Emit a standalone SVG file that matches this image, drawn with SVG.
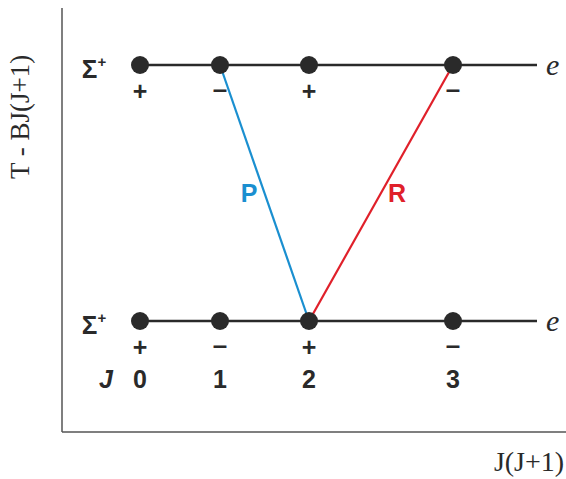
<svg xmlns="http://www.w3.org/2000/svg" width="566" height="479" viewBox="0 0 566 479">
<style>
.axis{stroke:#555;stroke-width:1.5;fill:none}
.lvl{stroke:#2a2a2a;stroke-width:2.5}
.dot{fill:#2a2a2a}
.lab{font-family:"Liberation Sans",Arial,sans-serif;font-weight:bold;fill:#2a2a2a;text-anchor:middle}
.ser{font-family:"Liberation Serif","Times New Roman",serif;fill:#2a2a2a}
</style>
<g id="axes">
<line class="axis" x1="62" y1="8" x2="62" y2="432"/>
<line class="axis" x1="62" y1="432" x2="566" y2="432"/>
<text class="ser" font-size="27" transform="translate(29,117) rotate(-90)" text-anchor="middle">T - BJ(J+1)</text>
<text class="ser" font-size="28" x="529" y="471" text-anchor="middle">J(J+1)</text>
</g>
<g id="connectors">
<line x1="220" y1="65" x2="309" y2="321" stroke="#1a8fd0" stroke-width="2.2"/>
<line x1="453" y1="65" x2="309" y2="321" stroke="#e0202a" stroke-width="2.2"/>
<text class="lab" x="249" y="202" font-size="25" style="fill:#1a8fd0">P</text>
<text class="lab" x="397" y="202" font-size="25" style="fill:#e0202a">R</text>
</g>
<g id="upper">
<line class="lvl" x1="140" y1="65" x2="537" y2="65"/>
<text class="lab" x="94" y="78" font-size="26" text-anchor="start">Σ<tspan font-size="15" dy="-11">+</tspan></text>
<text class="ser" x="546" y="75" font-size="30" font-style="italic">e</text>
</g>
<g id="lower">
<line class="lvl" x1="140" y1="321" x2="537" y2="321"/>
<text class="lab" x="94" y="334" font-size="26" text-anchor="start">Σ<tspan font-size="15" dy="-11">+</tspan></text>
<text class="ser" x="546" y="331" font-size="30" font-style="italic">e</text>
</g>
<g id="u0"><circle class="dot" cx="140" cy="65" r="9"/><text class="lab" x="140" y="100" font-size="25">+</text></g>
<g id="u1"><circle class="dot" cx="220" cy="65" r="9"/><text class="lab" x="220" y="98" font-size="26">–</text></g>
<g id="u2"><circle class="dot" cx="309" cy="65" r="9"/><text class="lab" x="309" y="100" font-size="25">+</text></g>
<g id="u3"><circle class="dot" cx="453" cy="65" r="9"/><text class="lab" x="453" y="98" font-size="26">–</text></g>
<g id="l0"><circle class="dot" cx="140" cy="321" r="9"/><text class="lab" x="140" y="356" font-size="25">+</text><text class="lab" x="140" y="388" font-size="25">0</text></g>
<g id="l1"><circle class="dot" cx="220" cy="321" r="9"/><text class="lab" x="220" y="354" font-size="26">–</text><text class="lab" x="220" y="388" font-size="25">1</text></g>
<g id="l2"><circle class="dot" cx="309" cy="321" r="9"/><text class="lab" x="309" y="356" font-size="25">+</text><text class="lab" x="309" y="388" font-size="25">2</text></g>
<g id="l3"><circle class="dot" cx="453" cy="321" r="9"/><text class="lab" x="453" y="354" font-size="26">–</text><text class="lab" x="453" y="388" font-size="25">3</text></g>
<text class="lab" x="106" y="388" font-size="25" font-style="italic">J</text>
</svg>
